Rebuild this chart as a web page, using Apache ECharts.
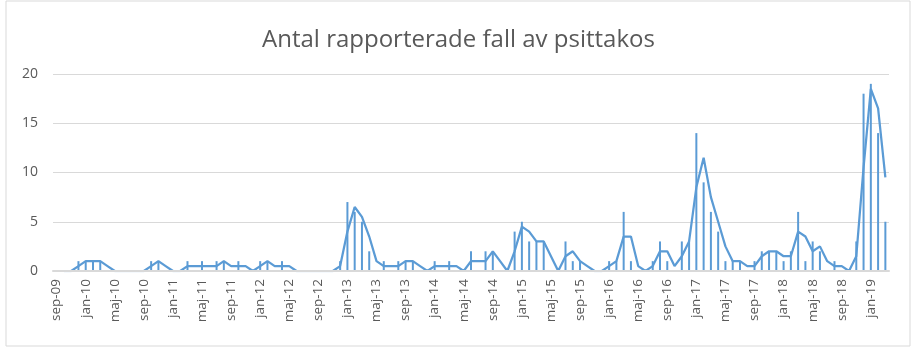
<!DOCTYPE html>
<html>
<head>
<meta charset="utf-8">
<script src="https://cdn.jsdelivr.net/npm/echarts@6/dist/echarts.min.js"></script>
<style>
  html, body { margin: 0; padding: 0; background: #fff; }
  #chart { width: 917px; height: 351px; }
</style>
</head>
<body>
<div id="chart"></div>
<script>
// months sep-09 .. mar-19
const months = [
  'sep-09','okt-09','nov-09','dec-09',
  'jan-10','feb-10','mar-10','apr-10','maj-10','jun-10','jul-10','aug-10','sep-10','okt-10','nov-10','dec-10',
  'jan-11','feb-11','mar-11','apr-11','maj-11','jun-11','jul-11','aug-11','sep-11','okt-11','nov-11','dec-11',
  'jan-12','feb-12','mar-12','apr-12','maj-12','jun-12','jul-12','aug-12','sep-12','okt-12','nov-12','dec-12',
  'jan-13','feb-13','mar-13','apr-13','maj-13','jun-13','jul-13','aug-13','sep-13','okt-13','nov-13','dec-13',
  'jan-14','feb-14','mar-14','apr-14','maj-14','jun-14','jul-14','aug-14','sep-14','okt-14','nov-14','dec-14',
  'jan-15','feb-15','mar-15','apr-15','maj-15','jun-15','jul-15','aug-15','sep-15','okt-15','nov-15','dec-15',
  'jan-16','feb-16','mar-16','apr-16','maj-16','jun-16','jul-16','aug-16','sep-16','okt-16','nov-16','dec-16',
  'jan-17','feb-17','mar-17','apr-17','maj-17','jun-17','jul-17','aug-17','sep-17','okt-17','nov-17','dec-17',
  'jan-18','feb-18','mar-18','apr-18','maj-18','jun-18','jul-18','aug-18','sep-18','okt-18','nov-18','dec-18',
  'jan-19','feb-19','mar-19'
];

// reported cases per month
const cases = [
  0,0,0,1,
  1,1,1,0,0,0,0,0,0,1,1,0,
  0,0,1,0,1,0,1,1,0,1,0,0,
  1,1,0,1,0,0,0,0,0,0,0,1,
  7,6,5,2,0,1,0,1,1,1,0,0,
  1,0,1,0,0,2,0,2,2,0,0,4,
  5,3,3,3,0,0,3,1,1,0,0,0,
  1,1,6,1,0,0,1,3,1,0,3,3,
  14,9,6,4,1,1,1,0,1,2,2,2,
  1,2,6,1,3,2,0,1,0,0,3,18,
  19,14,5
];

// 2-month moving average trend line
const trend = [
  null,0,0,0.5,
  1,1,1,0.5,0,0,0,0,0,0.5,1,0.5,
  0,0,0.5,0.5,0.5,0.5,0.5,1,0.5,0.5,0.5,0,
  0.5,1,0.5,0.5,0.5,0,0,0,0,0,0,0.5,
  4,6.5,5.5,3.5,1,0.5,0.5,0.5,1,1,0.5,0,
  0.5,0.5,0.5,0.5,0,1,1,1,2,1,0,2,
  4.5,4,3,3,1.5,0,1.5,2,1,0.5,0,0,
  0.5,1,3.5,3.5,0.5,0,0.5,2,2,0.5,1.5,3,
  8.5,11.5,7.5,5,2.5,1,1,0.5,0.5,1.5,2,2,
  1.5,1.5,4,3.5,2,2.5,1,0.5,0.5,0,1.5,10.5,
  18.5,16.5,9.5
];

const yTicks = [0, 5, 10, 15, 20];

const blue = '#5b9bd5';
const grey = '#595959';
const font = 'Open Sans';

const chart = echarts.init(document.getElementById('chart'));
chart.setOption({
  animation: false,
  textStyle: { fontFamily: font },
  title: {
    text: 'Antal rapporterade fall av psittakos',
    left: 'center',
    top: 23,
    textStyle: { color: grey, fontSize: 24, fontWeight: 'normal', fontFamily: font }
  },
  graphic: [{
    type: 'rect',
    shape: { x: 6, y: 1, width: 904, height: 345 },
    style: { fill: 'none', stroke: '#d9d9d9', lineWidth: 1 }
  }],
  grid: { left: 53, right: 28, top: 74, bottom: 80 },
  xAxis: {
    type: 'category',
    data: months,
    boundaryGap: true,
    z: 5,
    axisLine: { lineStyle: { color: '#d9d9d9', width: 2 } },
    axisTick: { interval: 3, length: 5, lineStyle: { color: '#d9d9d9' } },
    axisLabel: { interval: 3, rotate: 90, color: grey, fontSize: 13.5, margin: 8 }
  },
  yAxis: {
    type: 'value',
    min: yTicks[0],
    max: yTicks[yTicks.length - 1],
    interval: 5,
    axisLine: { show: false },
    axisTick: { show: false },
    axisLabel: { color: grey, fontSize: 14, margin: 15 },
    splitLine: { lineStyle: { color: '#d9d9d9' } }
  },
  series: [
    {
      type: 'bar',
      data: cases,
      barWidth: 2,
      itemStyle: { color: blue }
    },
    {
      type: 'line',
      data: trend,
      symbol: 'none',
      lineStyle: { color: blue, width: 2.25 },
      itemStyle: { color: blue }
    }
  ]
});
</script>
</body>
</html>
